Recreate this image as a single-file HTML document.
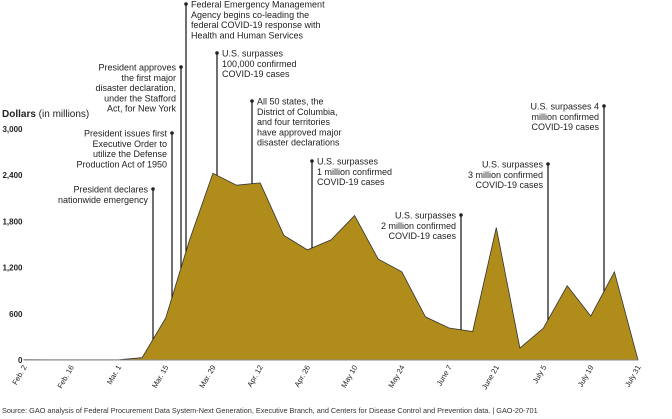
<!DOCTYPE html>
<html><head><meta charset="utf-8"><style>
html,body{margin:0;padding:0;background:#fff;}
svg{display:block;font-family:"Liberation Sans",Arial,sans-serif;}
</style></head><body>
<svg id="chart" width="672" height="419" viewBox="0 0 672 419" xmlns="http://www.w3.org/2000/svg">
<text x="2" y="117" font-size="10" fill="#222"><tspan font-weight="bold">Dollars</tspan> (in millions)</text>
<g id="yticks"></g>
<path id="area" fill="#b08c1a" stroke="#333" stroke-width="0.8"/>
<line x1="24" y1="360" x2="638" y2="360" stroke="#888" stroke-width="1"/>
<g id="xticks"></g>
<g id="annots"></g>
<text x="2" y="413" font-size="7.3" fill="#333">Source: GAO analysis of Federal Procurement Data System-Next Generation, Executive Branch, and Centers for Disease Control and Prevention data.  |  GAO-20-701</text>
</svg>
<script>
const categories=["Feb. 2","Feb. 9","Feb. 16","Feb. 23","Mar. 1","Mar. 8","Mar. 15","Mar. 22","Mar. 29","Apr. 5","Apr. 12","Apr. 19","Apr. 26","May 3","May 10","May 17","May 24","May 31","June 7","June 14","June 21","June 28","July 5","July 12","July 19","July 26","July 31"];
const values=[5,3,2,3,2,30,545,1550,2425,2270,2300,1620,1430,1560,1875,1310,1145,560,415,370,1720,155,415,965,570,1145,0];
const yTicks=[0,600,1200,1800,2400,3000];
const yTickLabels=["0","600","1,200","1,800","2,400","3,000"];
const xTickLabels=["Feb. 2","Feb. 16","Mar. 1","Mar. 15","Mar. 29","Apr. 12","Apr. 26","May 10","May 24","June 7","June 21","July 5","July 19","July 31"];
const annotations=[
 {x:153,top:189,side:"left",lines:["President declares","nationwide emergency"]},
 {x:172,top:133,side:"left",lines:["President issues first","Executive Order to","utilize the Defense","Production Act of 1950"]},
 {x:181,top:67,side:"left",lines:["President approves","the first major","disaster declaration,","under the Stafford","Act, for New York"]},
 {x:186,top:4,side:"right",lines:["Federal Emergency Management","Agency begins co-leading the","federal COVID-19 response with","Health and Human Services"]},
 {x:217,top:53,side:"right",lines:["U.S. surpasses","100,000 confirmed","COVID-19 cases"]},
 {x:252,top:101,side:"right",lines:["All 50 states, the","District of Columbia,","and four territories","have approved major","disaster declarations"]},
 {x:312,top:161,side:"right",lines:["U.S. surpasses","1 million confirmed","COVID-19 cases"]},
 {x:461,top:215,side:"left",lines:["U.S. surpasses","2 million confirmed","COVID-19 cases"]},
 {x:548,top:164,side:"left",lines:["U.S. surpasses","3 million confirmed","COVID-19 cases"]},
 {x:604,top:106,side:"left",lines:["U.S. surpasses 4","million confirmed","COVID-19 cases"]}
];
const NS="http://www.w3.org/2000/svg";
const X0=24,X1=638,Y0=360,YTOP=129,YMAX=3000;
const xs=i=>X0+(X1-X0)*i/(categories.length-1);
const ys=v=>Y0-(Y0-YTOP)*v/YMAX;
function mk(t,a,p){const e=document.createElementNS(NS,t);for(const k in a)e.setAttribute(k,a[k]);p.appendChild(e);return e;}
let d="M"+xs(0)+","+Y0;
values.forEach((v,i)=>{d+=" L"+xs(i).toFixed(1)+","+ys(v).toFixed(1);});
d+=" L"+xs(values.length-1)+","+Y0+" Z";
document.getElementById("area").setAttribute("d",d);
const yg=document.getElementById("yticks");
yTicks.forEach((v,i)=>{
 const t=mk("text",{x:22.5,y:ys(v)+3,"text-anchor":"end","font-size":"8","font-weight":"bold",fill:"#222"},yg);
 
 
 t.textContent=yTickLabels[i];
});
const xg=document.getElementById("xticks");
xTickLabels.forEach(lbl=>{
 const i=categories.indexOf(lbl);const x=xs(i)+3;
 const t=mk("text",{x:x,y:367,"text-anchor":"end","font-size":"7.5",fill:"#222",transform:`rotate(-60 ${x} 367)`},xg);
 
 
 t.textContent=lbl;
});
function curveY(x){const f=(x-X0)/(X1-X0)*(categories.length-1);const i=Math.min(Math.floor(f),categories.length-2);const r=f-i;return ys(values[i]*(1-r)+values[i+1]*r);}
const ag=document.getElementById("annots");
annotations.forEach(a=>{
 const g=mk("g",{},ag);
 
 
 mk("line",{x1:a.x,y1:a.top,x2:a.x,y2:curveY(a.x),stroke:"#222","stroke-width":"1.3"},g);
 mk("circle",{cx:a.x,cy:a.top,r:1.8,fill:"#222"},g);
 const tx=a.side==="left"?a.x-5:a.x+5;
 const t=mk("text",{"text-anchor":a.side==="left"?"end":"start","font-size":"9",fill:"#222"},g);
 a.lines.forEach((l,k)=>{const s=mk("tspan",{x:tx,y:a.top+3.5+k*10.3},t);s.textContent=l;});
});
</script>
</body></html>
